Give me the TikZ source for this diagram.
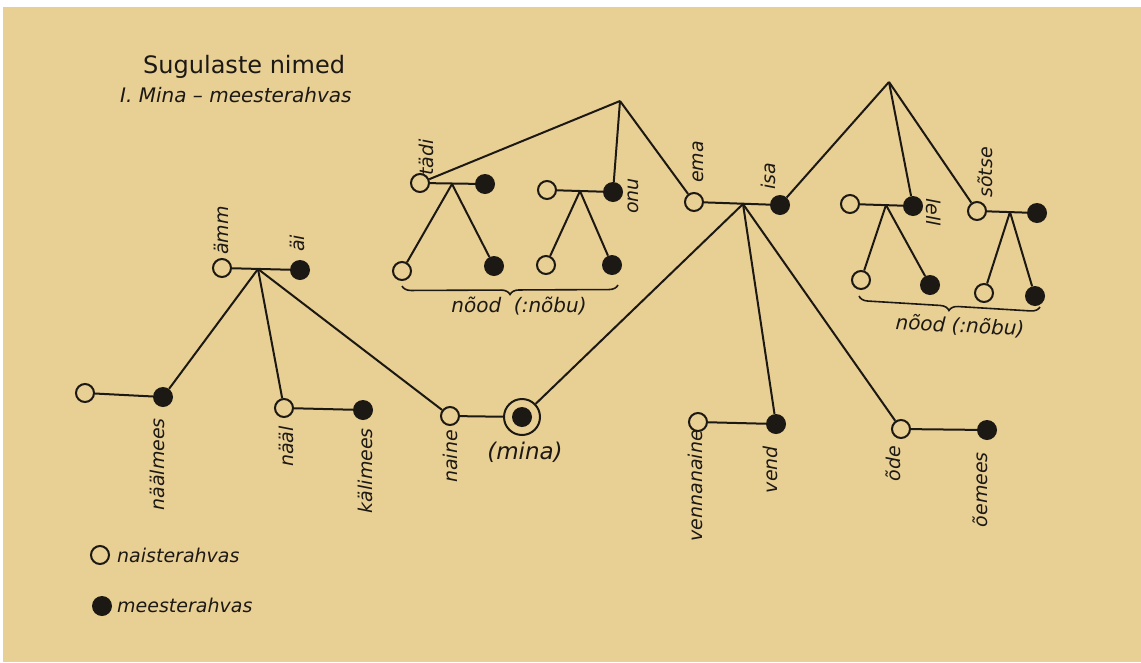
\documentclass[tikz,border=0pt]{standalone}
\usepackage{fontspec}
\setmainfont{DejaVu Sans}
\usetikzlibrary{decorations.pathreplacing}
\definecolor{paper}{RGB}{232,207,148}
\definecolor{ink}{RGB}{28,24,20}
\begin{document}
\begin{tikzpicture}[x=1pt,y=-1pt,
  fem/.style={circle,draw=ink,line width=2pt,fill=paper,minimum size=18pt,inner sep=0pt},
  mal/.style={circle,fill=ink,minimum size=20pt,inner sep=0pt},
  link/.style={draw=ink,line width=2pt},
  lbl/.style={font=\fontsize{19}{19}\selectfont\itshape,text=ink,inner sep=0pt},
  upl/.style={lbl,rotate=90,anchor=west},
  downl/.style={lbl,rotate=90,anchor=east},
  rdl/.style={lbl,rotate=-90,anchor=west},
  bracestyle/.style={draw=ink,line width=1.6pt,decorate,decoration={brace,mirror,amplitude=9pt}}
]
% page
\path[fill=white,use as bounding box] (0,0) rectangle (1141,662);
\fill[paper] (3,7) rectangle (1141,662);

% title
\node[anchor=base west,inner sep=0pt,text=ink,font=\fontsize{24}{24}\selectfont] (title) at (143,73) {Sugulaste nimed};
\node[anchor=base west,inner sep=0pt,text=ink,font=\fontsize{20}{20}\selectfont\itshape] (subtitle) at (120,102) {I. Mina – meesterahvas};

% --- left family (wife's parents)
\node[fem] (amm) at (222,268) {};
\node[mal] (ai) at (300,270) {};
\coordinate (j0) at (258,269);
\node[fem] (naalw) at (85,393) {};
\node[mal] (naalmees) at (163,397) {};
\node[fem] (naal) at (284,408) {};
\node[mal] (kalimees) at (363,410) {};
\node[fem] (naine) at (450,416) {};
\node[circle,draw=ink,line width=2pt,minimum size=36pt,inner sep=0pt] (mina) at (522,417) {};
\node[mal] (minaIn) at (mina) {};

% --- mother's side
\coordinate (A1) at (620,101);
\node[fem] (tadi) at (420,183) {};
\node[mal] (tadim) at (485,184) {};
\coordinate (j1) at (452,184);
\node[fem] (c1) at (402,271) {};
\node[mal] (c2) at (494,266) {};
\node[fem] (onuw) at (547,190) {};
\node[mal] (onu) at (613,192) {};
\coordinate (j2) at (580,191);
\node[fem] (c3) at (546,265) {};
\node[mal] (c4) at (612,265) {};

% --- parents
\node[fem] (ema) at (694,202) {};
\node[mal] (isa) at (780,205) {};
\coordinate (j3) at (743,204);
\node[fem] (vennanaine) at (698,422) {};
\node[mal] (vend) at (776,424) {};
\node[fem] (ode) at (901,429) {};
\node[mal] (oemees) at (987,430) {};

% --- father's side
\coordinate (A2) at (889,82);
\node[fem] (lellw) at (850,204) {};
\node[mal] (lell) at (913,206) {};
\coordinate (j4) at (886,205);
\node[fem] (c5) at (861,280) {};
\node[mal] (c6) at (930,285) {};
\node[fem] (sotse) at (977,211) {};
\node[mal] (sotsem) at (1037,213) {};
\coordinate (j5) at (1010,212);
\node[fem] (c7) at (984,293) {};
\node[mal] (c8) at (1035,296) {};

% connectors
\path[link] (amm) -- (ai);
\path[link] (j0) -- (naalmees);
\path[link] (j0) -- (naal);
\path[link] (j0) -- (naine);
\path[link] (naalw) -- (naalmees);
\path[link] (naal) -- (kalimees);
\path[link] (naine) -- (mina);

\path[link] (A1) -- (tadi);
\path[link] (A1) -- (onu);
\path[link] (A1) -- (ema);
\path[link] (tadi) -- (tadim);
\path[link] (j1) -- (c1);
\path[link] (j1) -- (c2);
\path[link] (onuw) -- (onu);
\path[link] (j2) -- (c3);
\path[link] (j2) -- (c4);

\path[link] (ema) -- (isa);
\path[link] (j3) -- (mina);
\path[link] (j3) -- (vend);
\path[link] (j3) -- (ode);
\path[link] (vennanaine) -- (vend);
\path[link] (ode) -- (oemees);

\path[link] (A2) -- (isa);
\path[link] (A2) -- (lell);
\path[link] (A2) -- (sotse);
\path[link] (lellw) -- (lell);
\path[link] (j4) -- (c5);
\path[link] (j4) -- (c6);
\path[link] (sotse) -- (sotsem);
\path[link] (j5) -- (c7);
\path[link] (j5) -- (c8);

% braces
\coordinate (b1s) at (402,286);
\coordinate (b1e) at (618,285);
\path[bracestyle] (b1s) -- (b1e);
\node[lbl,font=\fontsize{20}{20}\selectfont\itshape] (nood1) at (519,306) {nõod\ \ (:nõbu)};
\coordinate (b2s) at (859,296);
\coordinate (b2e) at (1040,307);
\path[bracestyle] (b2s) -- (b2e);
\node[lbl,font=\fontsize{20}{20}\selectfont\itshape,rotate=-3] (nood2) at (960,326) {nõod (:nõbu)};

% labels above
\node[upl] (lamm) at (221,255) {ämm};
\node[upl] (lai) at (297,252) {äi};
\node[upl] (ltadi) at (426,176) {tädi};
\node[upl] (lonu) at (633,214) {onu};
\node[upl] (lema) at (698,183) {ema};
\node[upl] (lisa) at (768,190) {isa};
\node[upl] (lsotse) at (985,198) {sõtse};
\node[rdl] (llell) at (934,198) {lell};

% labels below
\node[downl] (lnaalmees) at (157,418) {näälmees};
\node[downl] (lnaal) at (286,426) {nääl};
\node[downl] (lkalimees) at (365,428) {kälimees};
\node[downl] (lnaine) at (450,430) {naine};
\node[lbl,font=\fontsize{23}{23}\selectfont\itshape] (lmina) at (525,452) {(mina)};
\node[downl] (lvennanaine) at (695,430) {vennanaine};
\node[downl] (lvend) at (770,446) {vend};
\node[downl] (lode) at (893,446) {õde};
\node[downl] (loemees) at (980,452) {õemees};

% legend
\node[fem] (legf) at (100,555) {};
\node[lbl,anchor=base west] (legft) at (117,562) {naisterahvas};
\node[mal] (legm) at (102,606) {};
\node[lbl,anchor=base west] (legmt) at (117,612) {meesterahvas};
\end{tikzpicture}
\end{document}
